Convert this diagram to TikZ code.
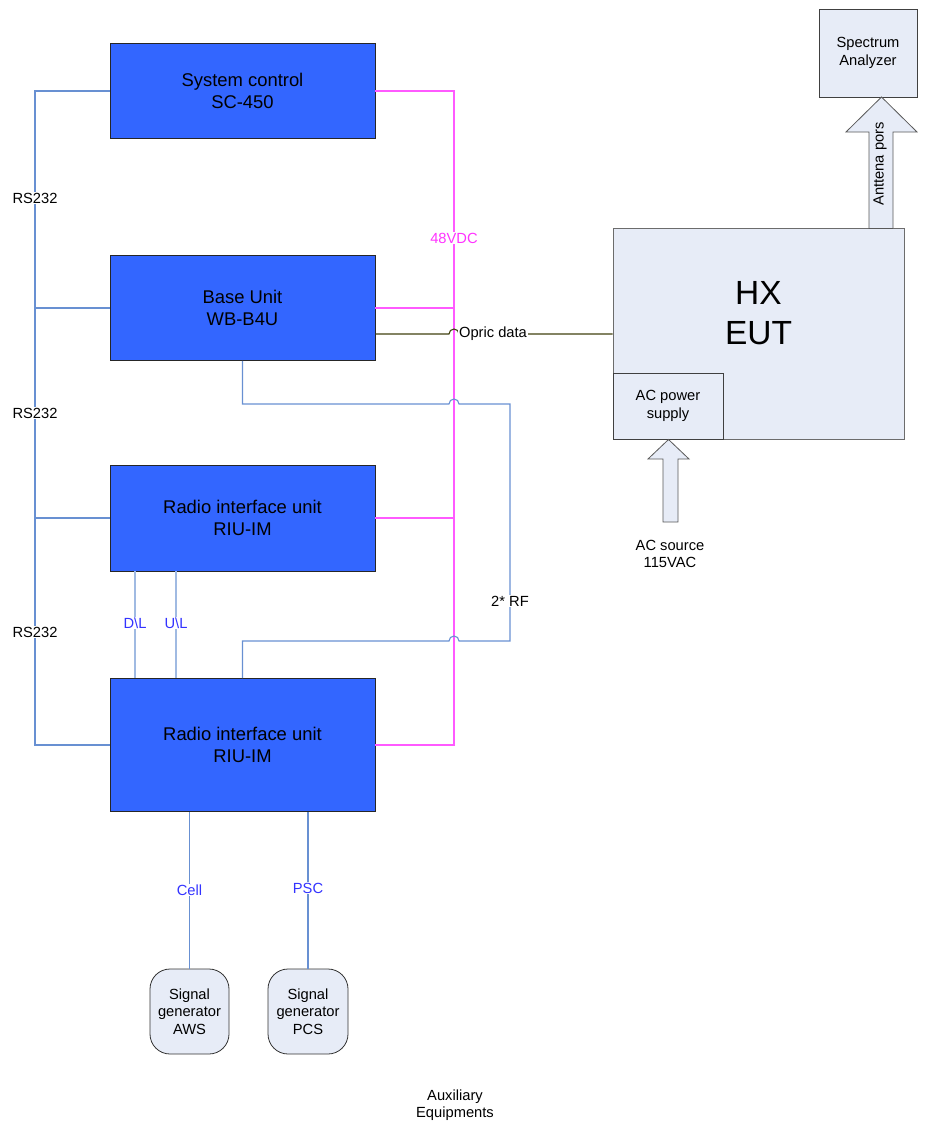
\documentclass[tikz,border=0pt]{standalone}
\usepackage{fontspec}
\setmainfont{Liberation Sans}
\definecolor{boxblue}{RGB}{51,102,255}
\definecolor{lightfill}{RGB}{231,236,247}
\definecolor{wireblue}{RGB}{104,144,210}
\definecolor{dlblue}{RGB}{160,186,226}
\definecolor{pinkwire}{RGB}{255,90,255}
\definecolor{pinktext}{RGB}{255,51,255}
\definecolor{labelblue}{RGB}{51,51,255}
\definecolor{opric}{RGB}{64,64,16}
\begin{document}
\begin{tikzpicture}[x=1pt,y=-1pt,
  bigbox/.style={draw=black!85, fill=boxblue, line width=0.8pt, align=center, inner sep=0pt,
    minimum width=265pt, font=\fontsize{18.4}{22}\selectfont},
  lightbox/.style={draw=gray!85!black, fill=lightfill, line width=0.8pt, align=center, inner sep=0pt,
    font=\fontsize{14.7}{17.5}\selectfont},
  sgbox/.style={lightbox, draw=black!80, rounded corners=20pt, minimum width=79pt, minimum height=85pt},
  smalltext/.style={align=center, inner sep=1pt, font=\fontsize{14.7}{17.5}\selectfont},
  wirelabel/.style={smalltext, fill=white},
  rswire/.style={draw=wireblue, line width=1.1pt},
  dlwire/.style={draw=dlblue, line width=1.8pt},
  pwire/.style={draw=pinkwire, line width=1.8pt},
  owire/.style={draw=opric, line width=1.1pt},
  blockarrow/.style={draw=gray!70!black, fill=lightfill, line width=0.8pt, line join=miter}
]
\useasboundingbox (0,0) rectangle (937,1124);

% main blue boxes
\node[bigbox, minimum height=95pt]  (sc)   at (242.5,91)  {System control\\SC-450};
\node[bigbox, minimum height=105pt] (bu)   at (242.5,308) {Base Unit\\WB-B4U};
\node[bigbox, minimum height=106pt] (riu1) at (242.5,518)   {Radio interface unit\\RIU-IM};
\node[bigbox, minimum height=133pt] (riu2) at (242.5,745) {Radio interface unit\\RIU-IM};

% EUT and others
\node[lightbox, minimum width=291pt, minimum height=211pt] (eut) at (758.5,334) {};
\node[inner sep=0pt, align=center, font=\fontsize{33.5}{40}\selectfont] (euttext) at (758.5,313) {HX\\EUT};
\node[lightbox, draw=black!75, minimum width=110pt, minimum height=66pt] (acps) at (668,406) {AC power\\supply};
\node[lightbox, draw=black!75, minimum width=98pt, minimum height=88pt] (sa) at (868,53) {Spectrum\\Analyzer};

\node[sgbox] (sgaws) at (189.5,1011.5) {Signal\\generator\\AWS};
\node[sgbox, minimum width=80pt] (sgpcs) at (308,1011.5) {Signal\\generator\\PCS};

% RS232 bus
\coordinate (rstop) at (35,91);
\coordinate (rsbot) at (35,745);
\draw[rswire] (sc.west) -- (rstop) -- (rsbot) -- (riu2.west);
\draw[rswire] (bu.west) -- (bu.west -| rstop);
\draw[rswire] (riu1.west) -- (riu1.west -| rstop);
\node[wirelabel] (rs1) at (35,198) {RS232};
\node[wirelabel] (rs2) at (35,413) {RS232};
\node[wirelabel] (rs3) at (35,632) {RS232};

% 48VDC bus
\coordinate (ptop) at (454,91);
\coordinate (pbot) at (454,745);
\draw[pwire] (sc.east) -- (ptop) -- (pbot) -- (riu2.east);
\draw[pwire] (bu.east) -- (bu.east -| ptop);
\draw[pwire] (riu1.east) -- (riu1.east -| ptop);
\node[wirelabel, text=pinktext] (vdc) at (454,238) {48VDC};

% Opric data
\draw[owire] (bu.east |- eut.west) -- (449,334) arc[start angle=180, end angle=0, radius=5pt] -- (eut.west);
\node[wirelabel] (opl) at (493,334) {Opric data};

% 2* RF loop
\coordinate (rf1) at (242.5,404);
\coordinate (rf2) at (510,404);
\coordinate (rf3) at (510,641);
\coordinate (rf4) at (242.5,641);
\draw[rswire] (bu.south) -- (rf1) -- (449,404) arc[start angle=180, end angle=0, radius=5pt] -- (rf2) -- (rf3)
  -- (459,641) arc[start angle=0, end angle=180, radius=5pt] -- (rf4) -- (riu2.north);
\node[wirelabel] (rfl) at (510,601) {2* RF};

% D\L and U\L
\coordinate (dl1) at (135,571);
\coordinate (ul1) at (176,571);
\draw[dlwire] (riu1.south -| dl1) -- (riu2.north -| dl1);
\draw[dlwire] (riu1.south -| ul1) -- (riu2.north -| ul1);
\node[wirelabel, text=labelblue] (dll) at (135,623) {D\textbackslash L};
\node[wirelabel, text=labelblue] (ull) at (176,623) {U\textbackslash L};

% Cell / PSC
\draw[rswire] (riu2.south -| sgaws.north) -- (sgaws.north);
\draw[rswire] (riu2.south -| sgpcs.north) -- (sgpcs.north);
\node[wirelabel, text=labelblue] (celll) at (189.5,890) {Cell};
\node[wirelabel, text=labelblue] (pscl) at (308,888) {PSC};

% block arrows
\draw[blockarrow] (869,228.5) -- (869,132) -- (846,132) -- (881.5,97) -- (917,132) -- (893,132) -- (893,228.5) -- cycle;
\node[smalltext, rotate=90] (antl) at (880,164) {Anttena pors};
\draw[blockarrow] (663,522) -- (663,459) -- (648,459) -- (668.5,439.5) -- (689,459) -- (678,459) -- (678,522) -- cycle;
\node[smalltext] (acsrc) at (670,554) {AC source\\115VAC};

\node[smalltext] (aux) at (455,1105) {Auxiliary\\Equipments};
\end{tikzpicture}
\end{document}
